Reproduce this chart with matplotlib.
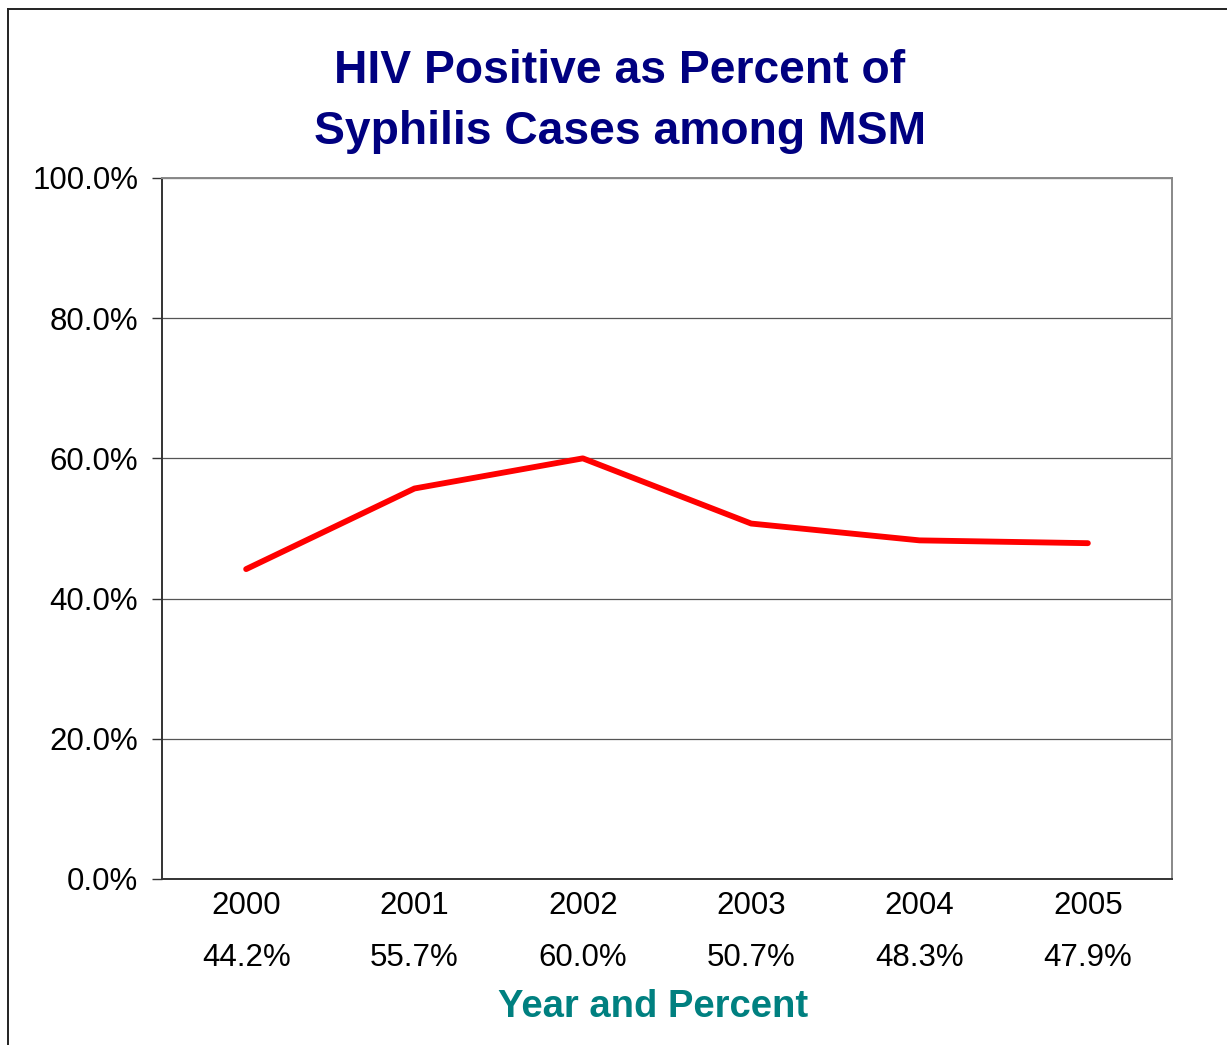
import matplotlib.pyplot as plt
from matplotlib.lines import Line2D

years = ['2000', '2001', '2002', '2003', '2004', '2005']
percent = [44.2, 55.7, 60.0, 50.7, 48.3, 47.9]
yticks = [0, 20, 40, 60, 80, 100]

plt.rcParams['font.family'] = ['Liberation Sans', 'DejaVu Sans']

fig = plt.figure(figsize=(12.27, 10.45), dpi=100)
ax = fig.add_axes([0.1320, 0.1589, 0.8232, 0.6708])

x = [i + 0.5 for i in range(len(years))]
ax.plot(x, percent, color='#ff0000', linewidth=4.2, solid_joinstyle='round',
        solid_capstyle='round', zorder=3)

ax.set_xlim(0, len(years))
ax.set_ylim(0, 100)
ax.set_yticks(yticks)
ax.set_yticklabels(['%.1f%%' % v for v in yticks], fontsize=22.5)
ax.set_xticks(x)
ax.set_xticklabels(['%s\n%.1f%%' % (y, p) for y, p in zip(years, percent)], fontsize=22.5)
for lbl in ax.get_xticklabels():
    lbl.set_linespacing(1.95)

ax.tick_params(axis='x', length=0, pad=9)
ax.tick_params(axis='y', length=7, width=1, pad=10, color='#333333')
ax.grid(axis='y', color='#555555', linewidth=0.9)
ax.set_axisbelow(True)

ax.spines['left'].set_color('#333333')
ax.spines['left'].set_linewidth(1.4)
ax.spines['bottom'].set_color('#333333')
ax.spines['bottom'].set_linewidth(1.4)
ax.spines['top'].set_color('#888888')
ax.spines['top'].set_linewidth(1.4)
ax.spines['right'].set_color('#888888')
ax.spines['right'].set_linewidth(1.4)

fig.text(0.505, 0.903, 'HIV Positive as Percent of\nSyphilis Cases among MSM',
         ha='center', va='center', fontsize=33.3, fontweight='bold', color='#000080',
         linespacing=1.5)
fig.text(0.532, 0.036, 'Year and Percent', ha='center', va='center',
         fontsize=27.5, fontweight='bold', color='#008080')

# outer frame (left and top only)
fig.add_artist(Line2D([8 / 1227, 8 / 1227], [0, 1 - 9 / 1045], transform=fig.transFigure,
                      color='#222222', linewidth=1.4))
fig.add_artist(Line2D([8 / 1227, 1], [1 - 9 / 1045, 1 - 9 / 1045], transform=fig.transFigure,
                      color='#222222', linewidth=1.4))

fig.savefig('out.png', dpi=100)
